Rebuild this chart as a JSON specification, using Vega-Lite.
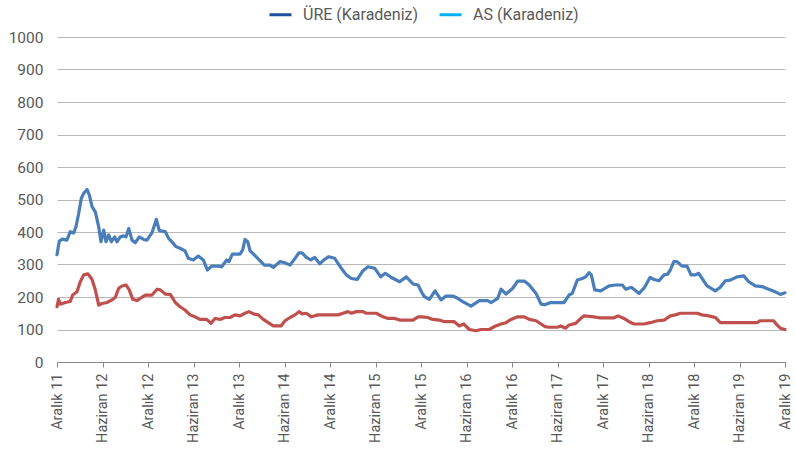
{
 "$schema": "https://vega.github.io/schema/vega-lite/v6.json",
 "width": 728, "height": 325,
 "autosize": {"type": "none"},
 "padding": {"left": 57, "top": 37, "right": 10, "bottom": 89},
 "background": "white",
 "config": {"view": {"stroke": null}, "font": "Roboto"},
 "datasets": {
  "ure": [
   {"ay":0,"deger":330},{"ay":0.3,"deger":372},{"ay":0.7,"deger":378},{"ay":1.3,"deger":375},{"ay":1.75,"deger":401},{"ay":2.2,"deger":397},{"ay":2.5,"deger":416},{"ay":2.86,"deger":457},{"ay":3.2,"deger":503},{"ay":3.52,"deger":519},{"ay":3.96,"deger":531},{"ay":4.26,"deger":514},{"ay":4.62,"deger":478},{"ay":5.05,"deger":462},{"ay":5.5,"deger":416},{"ay":5.8,"deger":370},{"ay":6.16,"deger":406},{"ay":6.46,"deger":370},{"ay":6.82,"deger":391},{"ay":7.16,"deger":370},{"ay":7.61,"deger":385},{"ay":7.91,"deger":370},{"ay":8.35,"deger":385},{"ay":8.8,"deger":388},{"ay":9.1,"deger":385},{"ay":9.46,"deger":411},{"ay":9.89,"deger":375},{"ay":10.33,"deger":367},{"ay":10.85,"deger":385},{"ay":11.43,"deger":377},{"ay":11.87,"deger":375},{"ay":12.53,"deger":398},{"ay":13.1,"deger":439},{"ay":13.49,"deger":404},{"ay":14.28,"deger":401},{"ay":14.73,"deger":380},{"ay":15.26,"deger":367},{"ay":15.69,"deger":355},{"ay":16.22,"deger":350},{"ay":16.88,"deger":342},{"ay":17.32,"deger":319},{"ay":17.97,"deger":314},{"ay":18.63,"deger":326},{"ay":19.29,"deger":314},{"ay":19.82,"deger":283},{"ay":20.4,"deger":295},{"ay":21.27,"deger":295},{"ay":21.72,"deger":293},{"ay":22.38,"deger":314},{"ay":22.68,"deger":309},{"ay":23.12,"deger":332},{"ay":24.13,"deger":332},{"ay":24.49,"deger":345},{"ay":24.79,"deger":377},{"ay":25.15,"deger":370},{"ay":25.45,"deger":343},{"ay":26.34,"deger":322},{"ay":27.34,"deger":298},{"ay":28.09,"deger":298},{"ay":28.52,"deger":291},{"ay":29.41,"deger":309},{"ay":29.97,"deger":306},{"ay":30.73,"deger":298},{"ay":31.39,"deger":319},{"ay":31.91,"deger":336},{"ay":32.31,"deger":336},{"ay":32.88,"deger":322},{"ay":33.46,"deger":314},{"ay":33.98,"deger":322},{"ay":34.64,"deger":302},{"ay":35.3,"deger":316},{"ay":35.83,"deger":324},{"ay":36.62,"deger":319},{"ay":37.41,"deger":291},{"ay":38.15,"deger":268},{"ay":38.81,"deger":257},{"ay":39.6,"deger":254},{"ay":40.35,"deger":281},{"ay":41.01,"deger":293},{"ay":41.9,"deger":288},{"ay":42.69,"deger":262},{"ay":43.3,"deger":273},{"ay":44.09,"deger":260},{"ay":45.19,"deger":247},{"ay":46.06,"deger":262},{"ay":46.95,"deger":240},{"ay":47.61,"deger":237},{"ay":48.13,"deger":213},{"ay":48.44,"deger":201},{"ay":49.1,"deger":193},{"ay":49.85,"deger":219},{"ay":50.64,"deger":191},{"ay":51.3,"deger":203},{"ay":52.18,"deger":203},{"ay":52.84,"deger":196},{"ay":53.5,"deger":186},{"ay":54.6,"deger":172},{"ay":55.69,"deger":189},{"ay":56.8,"deger":189},{"ay":57.23,"deger":183},{"ay":58.12,"deger":196},{"ay":58.55,"deger":224},{"ay":59.21,"deger":209},{"ay":60.1,"deger":227},{"ay":60.75,"deger":249},{"ay":61.62,"deger":249},{"ay":62.28,"deger":237},{"ay":63.17,"deger":211},{"ay":63.83,"deger":178},{"ay":64.3,"deger":176},{"ay":65.1,"deger":183},{"ay":66.86,"deger":183},{"ay":67.52,"deger":206},{"ay":67.95,"deger":211},{"ay":68.61,"deger":252},{"ay":69.27,"deger":257},{"ay":69.72,"deger":262},{"ay":70.16,"deger":275},{"ay":70.46,"deger":268},{"ay":70.91,"deger":222},{"ay":71.7,"deger":219},{"ay":72.8,"deger":234},{"ay":73.68,"deger":237},{"ay":74.55,"deger":237},{"ay":75.0,"deger":224},{"ay":75.74,"deger":230},{"ay":76.75,"deger":211},{"ay":77.41,"deger":227},{"ay":78.2,"deger":260},{"ay":78.73,"deger":254},{"ay":79.39,"deger":250},{"ay":80.05,"deger":268},{"ay":80.5,"deger":270},{"ay":80.88,"deger":283},{"ay":81.33,"deger":309},{"ay":81.76,"deger":309},{"ay":82.42,"deger":295},{"ay":83.08,"deger":295},{"ay":83.61,"deger":268},{"ay":84.17,"deger":268},{"ay":84.62,"deger":273},{"ay":85.06,"deger":257},{"ay":85.72,"deger":234},{"ay":86.81,"deger":219},{"ay":87.47,"deger":230},{"ay":88.13,"deger":250},{"ay":88.79,"deger":252},{"ay":89.67,"deger":262},{"ay":90.56,"deger":265},{"ay":91.22,"deger":247},{"ay":92.09,"deger":234},{"ay":92.97,"deger":232},{"ay":93.85,"deger":224},{"ay":94.72,"deger":216},{"ay":95.38,"deger":208},{"ay":96,"deger":213}
  ],
  "as": [
   {"ay":0,"deger":170},{"ay":0.2,"deger":193},{"ay":0.44,"deger":178},{"ay":1.09,"deger":183},{"ay":1.75,"deger":186},{"ay":2.07,"deger":206},{"ay":2.64,"deger":216},{"ay":3.07,"deger":247},{"ay":3.52,"deger":268},{"ay":4.09,"deger":271},{"ay":4.62,"deger":254},{"ay":5.05,"deger":222},{"ay":5.5,"deger":175},{"ay":5.93,"deger":180},{"ay":6.59,"deger":183},{"ay":7.25,"deger":191},{"ay":7.69,"deger":199},{"ay":8.14,"deger":227},{"ay":8.57,"deger":234},{"ay":9.1,"deger":237},{"ay":9.53,"deger":222},{"ay":9.98,"deger":193},{"ay":10.55,"deger":189},{"ay":10.99,"deger":196},{"ay":11.64,"deger":206},{"ay":12.53,"deger":206},{"ay":13.19,"deger":224},{"ay":13.62,"deger":222},{"ay":14.28,"deger":209},{"ay":14.94,"deger":208},{"ay":15.6,"deger":183},{"ay":16.22,"deger":170},{"ay":16.88,"deger":160},{"ay":17.54,"deger":145},{"ay":18.2,"deger":139},{"ay":18.86,"deger":131},{"ay":19.74,"deger":131},{"ay":20.31,"deger":119},{"ay":20.84,"deger":134},{"ay":21.5,"deger":131},{"ay":22.15,"deger":137},{"ay":22.81,"deger":137},{"ay":23.47,"deger":145},{"ay":24.13,"deger":142},{"ay":24.79,"deger":150},{"ay":25.32,"deger":155},{"ay":25.89,"deger":148},{"ay":26.55,"deger":145},{"ay":27.2,"deger":131},{"ay":27.86,"deger":121},{"ay":28.52,"deger":111},{"ay":29.54,"deger":111},{"ay":30.07,"deger":127},{"ay":30.73,"deger":137},{"ay":31.39,"deger":145},{"ay":31.91,"deger":155},{"ay":32.31,"deger":148},{"ay":32.88,"deger":150},{"ay":33.54,"deger":139},{"ay":34.42,"deger":145},{"ay":35.74,"deger":145},{"ay":37.06,"deger":145},{"ay":37.72,"deger":150},{"ay":38.38,"deger":155},{"ay":38.81,"deger":150},{"ay":39.47,"deger":155},{"ay":40.35,"deger":155},{"ay":40.79,"deger":150},{"ay":42.11,"deger":150},{"ay":42.99,"deger":139},{"ay":43.65,"deger":134},{"ay":44.53,"deger":134},{"ay":45.19,"deger":129},{"ay":46.95,"deger":129},{"ay":47.61,"deger":139},{"ay":48.13,"deger":139},{"ay":48.89,"deger":137},{"ay":49.55,"deger":131},{"ay":50.42,"deger":129},{"ay":51.08,"deger":124},{"ay":52.39,"deger":124},{"ay":53.05,"deger":111},{"ay":53.63,"deger":117},{"ay":54.37,"deger":100},{"ay":55.25,"deger":96},{"ay":55.91,"deger":100},{"ay":57.01,"deger":100},{"ay":57.67,"deger":109},{"ay":58.55,"deger":117},{"ay":59.21,"deger":121},{"ay":59.87,"deger":131},{"ay":60.75,"deger":139},{"ay":61.62,"deger":139},{"ay":62.28,"deger":131},{"ay":63.17,"deger":127},{"ay":63.83,"deger":117},{"ay":64.35,"deger":109},{"ay":64.88,"deger":107},{"ay":65.98,"deger":107},{"ay":66.42,"deger":111},{"ay":67.08,"deger":104},{"ay":67.52,"deger":114},{"ay":68.4,"deger":119},{"ay":69.06,"deger":134},{"ay":69.5,"deger":142},{"ay":70.82,"deger":139},{"ay":71.48,"deger":136},{"ay":73.45,"deger":136},{"ay":73.98,"deger":142},{"ay":74.77,"deger":134},{"ay":75.43,"deger":124},{"ay":76.09,"deger":117},{"ay":77.41,"deger":117},{"ay":78.2,"deger":121},{"ay":79.16,"deger":127},{"ay":80.05,"deger":129},{"ay":80.88,"deger":142},{"ay":81.54,"deger":145},{"ay":82.2,"deger":150},{"ay":84.4,"deger":150},{"ay":85.06,"deger":145},{"ay":85.94,"deger":142},{"ay":86.81,"deger":137},{"ay":87.47,"deger":121},{"ay":92.31,"deger":121},{"ay":92.75,"deger":127},{"ay":94.5,"deger":127},{"ay":94.94,"deger":114},{"ay":95.38,"deger":104},{"ay":96,"deger":100}
  ],
  "seriler": [{"seri": "ÜRE (Karadeniz)"}, {"seri": "AS (Karadeniz)"}]
 },
 "encoding": {
  "x": {"field": "ay", "type": "quantitative",
   "scale": {"domain": [0, 96], "nice": false, "zero": false},
   "axis": {"values": [0,6,12,18,24,30,36,42,48,54,60,66,72,78,84,90,96],
    "labelExpr": "datum.value % 12 == 0 ? 'Aralık ' + (11 + datum.value / 12) : 'Haziran ' + (12 + floor(datum.value / 12))",
    "labelAngle": -90, "title": null, "grid": false,
    "domainColor": "#868686", "tickColor": "#868686", "tickSize": 5,
    "labelFontSize": 14.5, "labelColor": "#595959", "labelPadding": 6, "labelFont": "Roboto"}},
  "y": {"field": "deger", "type": "quantitative",
   "scale": {"domain": [0, 1000], "nice": false},
   "axis": {"values": [0,100,200,300,400,500,600,700,800,900,1000], "format": "d", "title": null,
    "domain": false, "ticks": false, "gridColor": "#b8b8b8", "gridWidth": 1,
    "labelFontSize": 15.5, "labelColor": "#595959", "labelPadding": 14, "labelFont": "Roboto"}}
 },
 "layer": [
  {"data": {"name": "ure"}, "mark": {"type": "line", "color": "#4a7ebb", "strokeWidth": 3.2, "strokeJoin": "round", "strokeCap": "round"}},
  {"data": {"name": "as"}, "mark": {"type": "line", "color": "#c0504d", "strokeWidth": 3.2, "strokeJoin": "round", "strokeCap": "round"}},
  {"data": {"name": "seriler"},
   "transform": [{"filter": "datum.seri == 'yok'"}],
   "mark": {"type": "rule", "strokeWidth": 3},
   "encoding": {
    "x": {"value": 0}, "y": {"value": 0},
    "stroke": {"field": "seri", "type": "nominal",
     "scale": {"domain": ["ÜRE (Karadeniz)", "AS (Karadeniz)"], "range": ["#1f4e9c", "#00b0f0"]},
     "legend": {"orient": "none", "legendX": 211, "legendY": -35, "direction": "horizontal", "title": null,
      "symbolType": "stroke", "symbolStrokeWidth": 3, "symbolSize": 484,
      "labelFontSize": 16, "labelColor": "#595959", "labelFont": "Roboto",
      "columnPadding": 14, "labelOffset": 10}}}}
 ]
}
